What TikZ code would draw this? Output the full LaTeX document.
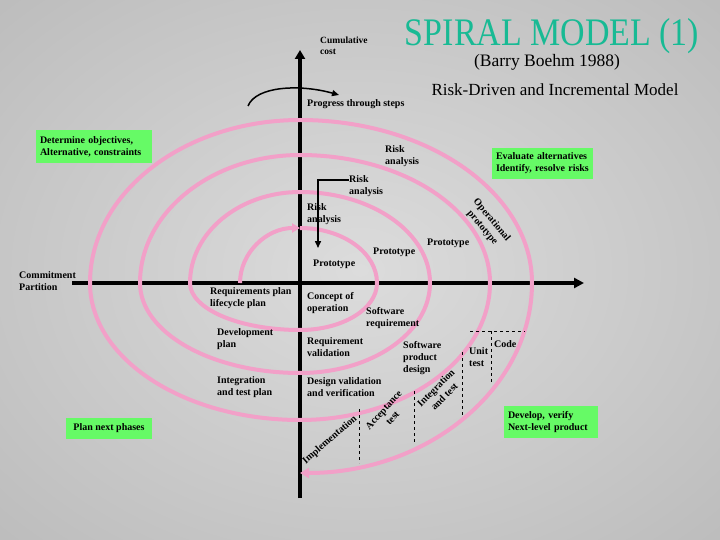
\documentclass[tikz,border=0pt]{standalone}
\usepackage{fontspec}
\setmainfont{Liberation Serif}
\usetikzlibrary{arrows.meta,positioning,calc}
\definecolor{spiralpink}{RGB}{242,160,200}
\definecolor{boxgreen}{RGB}{102,250,102}
\definecolor{titleteal}{RGB}{24,186,148}
\definecolor{bgin}{RGB}{220,220,220}
\definecolor{bgout}{RGB}{165,165,165}
\pgfdeclareradialshading{bgglow}{\pgfpoint{0bp}{0bp}}{color(0bp)=(bgin); color(62bp)=(bgout); color(75bp)=(bgout)}

\begin{document}
\begin{tikzpicture}[x=1pt, y=-1pt,
    lbl/.style={font=\bfseries\fontsize{10}{12}\selectfont, align=left, anchor=west, inner sep=0pt},
    turned/.style={lbl, align=center, anchor=center},
    greenbox/.style={fill=boxgreen, rectangle, align=left, font=\bfseries\fontsize{10}{12}\selectfont, inner xsep=4pt, inner ysep=0pt},
    spiral/.style={draw=spiralpink, line width=4pt},
    axis/.style={draw=black, line width=4pt},
    phase/.style={draw=black, dashed, line width=0.8pt}
]
\useasboundingbox (0,0) rectangle (720,540);
\shade[shading=bgglow] (0,0) rectangle (720,540);

% titles
\node[text=titleteal, font=\fontsize{39}{39}\selectfont] (title) at (552,36) {\scalebox{0.87}[1]{SPIRAL MODEL (1)}};
\node[font=\fontsize{17.5}{20}\selectfont] (boehm) at (547,62) {(Barry Boehm 1988)};
\node[font=\fontsize{17}{20}\selectfont] (subtitle) at (555,90) {Risk-Driven and Incremental Model};

% axes
\coordinate (ytop) at (300,50);
\coordinate (ybot) at (300,498);
\coordinate (xleft) at (72,283);
\coordinate (xright) at (584,283);
\draw[axis, -{Triangle[length=9pt,width=10pt]}] (ybot) -- (ytop);
\draw[axis, -{Triangle[length=10pt,width=10pt]}] (xleft) -- (xright);

% progress arrow
\coordinate (pfrom) at (248,106);
\coordinate (pto) at (339,95);
\draw[line width=1.5pt, -{Triangle[length=7pt,width=6pt]}] (pfrom) .. controls (256,86) and (300,84) .. (pto);

% the spiral
\coordinate (sstart) at (240,283);
\coordinate (sfirst) at (300,228);
\draw[spiral, -{Triangle[length=8pt,width=9pt]}] (sstart)
    arc[start angle=180, end angle=270, x radius=60, y radius=55];
\draw[spiral, -{Triangle[length=9pt,width=10pt]}] (sfirst)
    arc[start angle=270, end angle=360, x radius=77, y radius=55]
    arc[start angle=0, end angle=90, x radius=77, y radius=47]
    arc[start angle=90, end angle=180, x radius=110, y radius=47]
    arc[start angle=180, end angle=270, x radius=110, y radius=91]
    arc[start angle=270, end angle=360, x radius=130, y radius=91]
    arc[start angle=0, end angle=90, x radius=130, y radius=90]
    arc[start angle=90, end angle=180, x radius=160, y radius=90]
    arc[start angle=180, end angle=270, x radius=160, y radius=128]
    arc[start angle=270, end angle=360, x radius=190, y radius=128]
    arc[start angle=0, end angle=90, x radius=190, y radius=137]
    arc[start angle=90, end angle=180, x radius=210, y radius=137]
    arc[start angle=180, end angle=270, x radius=210, y radius=163]
    arc[start angle=270, end angle=360, x radius=232, y radius=163]
    arc[start angle=0, end angle=90, x radius=232, y radius=190];

% phase separators
\draw[phase] (470,331) -- (525,331);
\draw[phase] (491,331) -- (491,384);
\draw[phase] (462,352) -- (462,416);
\draw[phase] (414,391) -- (414,444);
\draw[phase] (359,409) -- (359,463);

% green boxes
\node[greenbox, minimum width=116pt, minimum height=33pt, text width=108pt] (objbox) at (94,146.5) {Determine objectives,\\Alternative, constraints};
\node[greenbox, minimum width=101pt, minimum height=31pt, text width=93pt] (evalbox) at (542.5,163.5) {Evaluate alternatives\\Identify, resolve risks};
\node[greenbox, minimum width=94pt, minimum height=32pt, text width=86pt] (devbox) at (551,422) {Develop, verify\\Next-level product};
\node[greenbox, minimum width=86pt, minimum height=21pt, align=center] (planbox) at (109,428.5) {Plan next phases};

% labels
\node[lbl, font=\bfseries\fontsize{9.5}{11}\selectfont] (cumcost) at (320,46) {Cumulative\\cost};
\node[lbl] (progress) at (307,104) {Progress through steps};
\node[lbl] (riskA) at (385,156) {Risk\\analysis};
\node[lbl] (riskB) at (349,186) {Risk\\analysis};
\node[lbl] (riskC) at (307,214) {Risk\\analysis};
\node[lbl] (protoA) at (373,252) {Prototype};
\node[lbl] (protoB) at (427,243) {Prototype};
\node[lbl] (protoC) at (313,264) {Prototype};
\node[turned, rotate=-50] (oper) at (487,224) {Operational\\prototype};
\node[lbl] (commit) at (19,281) {Commitment\\Partition};
\node[lbl] (reqplan) at (210,298) {Requirements plan\\lifecycle plan};
\node[lbl] (devplan) at (217,339) {Development\\plan};
\node[lbl] (intplan) at (217,387) {Integration\\and test plan};
\node[lbl] (concept) at (307,303) {Concept of\\operation};
\node[lbl] (swreq) at (366,318) {Software\\requirement};
\node[lbl] (reqval) at (307,347) {Requirement\\validation};
\node[lbl] (desval) at (307,387) {Design validation\\and verification};
\node[lbl] (swprod) at (403,358) {Software\\product\\design};
\node[lbl] (unit) at (469,357) {Unit\\test};
\node[lbl] (code) at (494,344) {Code};
\node[turned, rotate=41] (impl) at (330,440) {Implementation};
\node[turned, rotate=48] (accept) at (388,414) {Acceptance\\test};
\node[turned, rotate=45] (inttest) at (440,392) {Integration\\and test};

% risk analysis hook
\coordinate (hookstart) at (349,180);
\coordinate (hookend) at (318,248);
\draw[line width=1.5pt, -{Triangle[length=7pt,width=6pt]}] (hookstart) -| (hookend);
\end{tikzpicture}
\end{document}
